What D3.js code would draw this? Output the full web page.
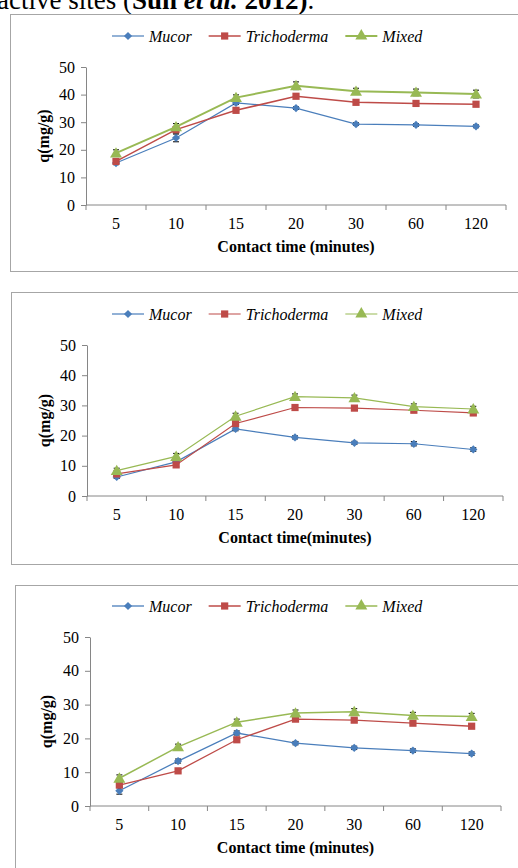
<!DOCTYPE html>
<html>
<head>
<meta charset="utf-8">
<script src="https://cdn.jsdelivr.net/npm/d3@7"></script>
<style>
  body { margin: 0; background: #fff; }
  svg { display: block; font-family: "Liberation Serif", "Times New Roman", serif; }
</style>
</head>
<body>
<svg id="chart"></svg>
<script>
// contact time categories (minutes) and series
const categories = ['5', '10', '15', '20', '30', '60', '120'];
const seriesNames = ['Mucor', 'Trichoderma', 'Mixed'];
const yTicks = [0, 10, 20, 30, 40, 50];

// panel A
const mucorA = [15.2, 24.3, 37.0, 35.1, 29.3, 29.0, 28.5];
const trichodermaA = [15.8, 27.3, 34.3, 39.4, 37.2, 36.8, 36.5];
const mixedA = [18.8, 28.3, 38.9, 43.2, 41.2, 40.8, 40.2];
const errMucorA = [0.6, 1.4, 0.6, 0.5, 0.5, 0.5, 0.5];
const errTrichodermaA = [1.0, 1.2, 0.6, 0.6, 0.5, 0.5, 0.5];
const errMixedA = [1.2, 1.2, 1.0, 1.4, 1.1, 1.2, 1.4];

// panel B
const mucorB = [6.3, 11.3, 22.2, 19.4, 17.6, 17.3, 15.4];
const trichodermaB = [7.3, 10.3, 24.0, 29.3, 29.1, 28.4, 27.5];
const mixedB = [8.4, 13.1, 26.4, 32.9, 32.5, 29.6, 28.8];
const errMucorB = [0.5, 0.6, 0.6, 0.5, 0.5, 0.7, 0.6];
const errTrichodermaB = [0.6, 0.6, 0.8, 0.5, 0.5, 0.6, 0.6];
const errMixedB = [0.8, 1.0, 1.0, 0.9, 0.9, 0.9, 0.9];

// panel C
const mucorC = [4.5, 13.3, 21.6, 18.6, 17.2, 16.4, 15.5];
const trichodermaC = [6.2, 10.4, 19.6, 25.7, 25.4, 24.5, 23.6];
const mixedC = [8.2, 17.5, 24.8, 27.5, 27.9, 26.8, 26.5];
const errMucorC = [1.0, 0.6, 0.6, 0.5, 0.5, 0.5, 0.5];
const errTrichodermaC = [0.8, 0.5, 0.6, 0.5, 0.5, 0.5, 0.5];
const errMixedC = [1.0, 0.8, 0.9, 0.9, 0.9, 0.9, 0.9];

const colors = ['#4a7ebb', '#be4b48', '#98b954'];
const symbols = [d3.symbolSquare, d3.symbolSquare, d3.symbolTriangle];
const symbolSizes = [34, 52, 62];
const symbolRotate = [45, 0, 0];

const width = 518;
const height = 868;

const svg = d3.select('#chart')
              .attr('width', width)
              .attr('height', height);

// running text from the paper above the figure
const header = svg.append('text')
                  .attr('x', -3)
                  .attr('y', 9)
                  .style('font-size', '27px');
header.append('tspan').text('active sites (');
header.append('tspan').text('Sun ').style('font-weight', 'bold');
header.append('tspan').text('et al.').style('font-weight', 'bold').style('font-style', 'italic');
header.append('tspan').text(' 2012)').style('font-weight', 'bold');
header.append('tspan').text('.');

const panels = [
  { frame: [10, 14, 540, 257], x0: 86, x1: 506, yTop: 67, yBottom: 205, legendY: 36,
    tickY: 223, titleY: 246, yTitleX: 43, widths: [1.2, 1.5, 2],
    xTitle: 'Contact time (minutes)',
    values: [mucorA, trichodermaA, mixedA], errors: [errMucorA, errTrichodermaA, errMixedA] },
  { frame: [11, 292, 540, 272], x0: 87, x1: 503, yTop: 345, yBottom: 496, legendY: 314,
    tickY: 514, titleY: 537, yTitleX: 44, widths: [1.2, 1.2, 1.2],
    xTitle: 'Contact time(minutes)',
    values: [mucorB, trichodermaB, mixedB], errors: [errMucorB, errTrichodermaB, errMixedB] },
  { frame: [15, 585, 540, 320], x0: 90, x1: 501, yTop: 637, yBottom: 806, legendY: 606,
    tickY: 824, titleY: 847, yTitleX: 46, widths: [1.3, 1.3, 1.5],
    xTitle: 'Contact time (minutes)',
    values: [mucorC, trichodermaC, mixedC], errors: [errMucorC, errTrichodermaC, errMixedC] }
];

const marker = (s) => d3.symbol(symbols[s], symbolSizes[s])();

panels.forEach((p) => {
  const g = svg.append('g');

  g.append('rect')
    .attr('x', p.frame[0] + 0.5)
    .attr('y', p.frame[1] + 0.5)
    .attr('width', p.frame[2])
    .attr('height', p.frame[3])
    .attr('fill', 'none')
    .attr('stroke', '#a6a6a6');

  const xScale = d3.scaleBand()
                   .domain(categories)
                   .range([p.x0, p.x1]);

  const yScale = d3.scaleLinear()
                   .domain([0, 50])
                   .range([p.yBottom, p.yTop]);

  const cx = (i) => xScale(categories[i]) + xScale.bandwidth() / 2;

  // x axis: ticks on band edges
  const xAxis = g.append('g')
                 .attr('transform', `translate(0, ${p.yBottom})`);
  xAxis.append('line')
    .attr('x1', p.x0).attr('x2', p.x1)
    .attr('stroke', '#868686');
  xAxis.selectAll('.edge')
    .data(categories.concat(['end']))
    .enter()
    .append('line')
      .attr('x1', (d, i) => p.x0 + i * xScale.bandwidth())
      .attr('x2', (d, i) => p.x0 + i * xScale.bandwidth())
      .attr('y1', 0).attr('y2', 5)
      .attr('stroke', '#868686');
  xAxis.selectAll('.lbl')
    .data(categories)
    .enter()
    .append('text')
      .attr('x', (d) => xScale(d) + xScale.bandwidth() / 2)
      .attr('y', p.tickY - p.yBottom)
      .attr('dy', '0.35em')
      .style('text-anchor', 'middle')
      .style('font-size', '16px')
      .text((d) => d);

  // y axis
  const yAxis = d3.axisLeft(yScale)
                  .tickValues(yTicks)
                  .tickSize(5)
                  .tickPadding(6)
                  .tickSizeOuter(0);
  const ya = g.append('g')
              .attr('transform', `translate(${p.x0}, 0)`)
              .call(yAxis);
  ya.selectAll('path, line').attr('stroke', '#868686');
  ya.selectAll('text')
    .attr('fill', '#000')
    .style('font-family', '"Liberation Serif", serif')
    .style('font-size', '16px');

  // axis titles
  g.append('text')
    .text(p.xTitle)
    .attr('x', (p.x0 + p.x1) / 2)
    .attr('y', p.titleY)
    .attr('dy', '0.35em')
    .style('text-anchor', 'middle')
    .style('font-weight', 'bold')
    .style('font-size', '16px');

  g.append('text')
    .text('q(mg/g)')
    .attr('transform', `translate(${p.yTitleX}, ${(p.yTop + p.yBottom) / 2}) rotate(-90)`)
    .attr('dy', '0.35em')
    .style('text-anchor', 'middle')
    .style('font-weight', 'bold')
    .style('font-size', '16px');

  const line = d3.line()
                 .x((d, i) => cx(i))
                 .y((d) => yScale(d));

  p.values.forEach((vals, s) => {
    g.append('path')
      .datum(vals)
      .attr('d', line)
      .attr('fill', 'none')
      .attr('stroke', colors[s])
      .attr('stroke-width', p.widths[s]);

    // error bars sit under the markers, only the caps peek out
    const errs = p.errors[s];
    const eg = g.append('g').attr('stroke', '#000').attr('stroke-width', 1);
    vals.forEach((v, i) => {
      const hi = yScale(v + errs[i]);
      const lo = yScale(v - errs[i]);
      eg.append('line').attr('x1', cx(i)).attr('x2', cx(i)).attr('y1', hi).attr('y2', lo);
      eg.append('line').attr('x1', cx(i) - 3).attr('x2', cx(i) + 3).attr('y1', hi).attr('y2', hi);
      eg.append('line').attr('x1', cx(i) - 3).attr('x2', cx(i) + 3).attr('y1', lo).attr('y2', lo);
    });

    g.selectAll(`.m${s}`)
      .data(vals)
      .enter()
      .append('path')
        .attr('d', marker(s))
        .attr('transform', (d, i) => `translate(${cx(i)}, ${yScale(d) + (s === 2 ? 1 : 0)}) rotate(${symbolRotate[s]})`)
        .attr('fill', colors[s]);
  });

  // legend
  let lx = 112;
  seriesNames.forEach((name, s) => {
    g.append('line')
      .attr('x1', lx).attr('x2', lx + 32)
      .attr('y1', p.legendY).attr('y2', p.legendY)
      .attr('stroke', colors[s])
      .attr('stroke-width', p.widths[s]);
    g.append('path')
      .attr('d', marker(s))
      .attr('transform', `translate(${lx + 16}, ${p.legendY}) rotate(${symbolRotate[s]})`)
      .attr('fill', colors[s]);
    const t = g.append('text')
      .text(name)
      .attr('x', lx + 37)
      .attr('y', p.legendY)
      .attr('dy', '0.35em')
      .style('font-style', 'italic')
      .style('font-size', '16px');
    lx += 37 + t.node().getComputedTextLength() + 17;
  });
});
</script>
</body>
</html>
